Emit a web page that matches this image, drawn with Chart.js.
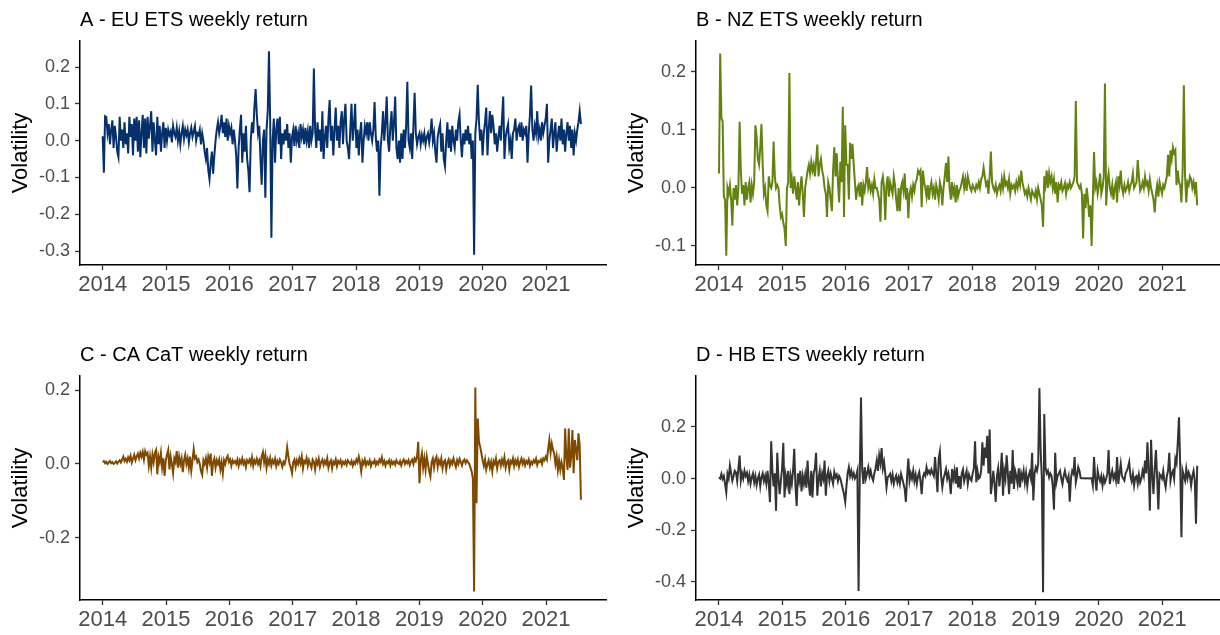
<!DOCTYPE html>
<html lang="en">
<head>
    <meta charset="UTF-8">
    <title>ETS weekly returns</title>
    <script src="https://cdn.jsdelivr.net/npm/chart.js"></script>
    <style>
        body { margin: 0; background: #fff; }
        #wrap { position: relative; width: 1220px; height: 635px; overflow: hidden; }
        .panel { position: absolute; }
    </style>
</head>
<body>
<div id="wrap">
    <div class="panel" style="left:0px;top:0px"><canvas id="chartA" width="616" height="300"></canvas></div>
    <div class="panel" style="left:616px;top:0px"><canvas id="chartB" width="604" height="300"></canvas></div>
    <div class="panel" style="left:0px;top:335px"><canvas id="chartC" width="616" height="300"></canvas></div>
    <div class="panel" style="left:616px;top:335px"><canvas id="chartD" width="604" height="300"></canvas></div>
</div>
<script>
    // weekly returns (one value per week from Jan 2014)
    const euEts = [
        0.012, -0.087, 0.066, 0.064, 0.02, 0.045, -0.01, 0.03, 0.055, -0.02,
        0.04, 0.01, -0.03, -0.045, 0.065, 0.0, 0.03, -0.02, 0.05, -0.01,
        0.02, -0.035, 0.065, 0.01, 0.045, -0.04, 0.06, 0.0, 0.065, -0.03,
        0.055, -0.045, 0.02, 0.07, -0.02, 0.06, -0.035, 0.065, 0.005, 0.04,
        0.08, -0.03, 0.05, 0.0, -0.04, 0.065, -0.01, 0.04, -0.03, 0.02,
        0.05, -0.02, 0.035, 0.0, 0.03, 0.015, 0.025, -0.005, 0.04, 0.02,
        0.01, 0.035, 0.0, 0.025, -0.01, 0.02, 0.04, 0.005, 0.03, 0.015,
        0.03, -0.005, 0.02, 0.035, 0.01, 0.025, 0.04, 0.0, 0.02, 0.015,
        0.03, -0.01, 0.02, 0.0, -0.03, -0.05, -0.02, -0.08, -0.105, -0.06,
        -0.03, -0.09, -0.04, 0.0, 0.03, 0.05, 0.02, 0.04, 0.07, 0.02,
        0.05, 0.01, 0.06, 0.0, 0.04, 0.02, 0.035, -0.01, 0.03, 0.0,
        -0.04, -0.13, -0.02, 0.03, 0.07, -0.06, 0.02, -0.03, 0.04, -0.05,
        -0.08, -0.14, 0.0, 0.05, 0.02, 0.09, 0.14, 0.07, 0.02, 0.04,
        -0.05, -0.12, 0.0, 0.03, -0.155, 0.03, 0.08, 0.243, 0.05, -0.264,
        0.0, 0.06, -0.06, 0.03, 0.06, -0.01, 0.065, -0.05, 0.02, -0.01,
        0.03, 0.0, 0.045, -0.02, 0.02, -0.06, 0.01, 0.03, -0.015, 0.04,
        0.0, 0.02, -0.02, 0.045, 0.01, 0.03, -0.01, 0.035, 0.0, 0.025,
        -0.02, 0.04, 0.0, 0.02, 0.196, 0.03, -0.02, 0.05, 0.0, 0.03,
        -0.03, 0.08, -0.05, 0.01, 0.04, -0.02, 0.06, 0.11, 0.0, 0.04,
        -0.04, 0.03, 0.09, 0.0, 0.04, -0.02, 0.05, 0.08, -0.01, 0.06,
        0.10, 0.0, -0.02, -0.05, 0.03, 0.10, 0.0, 0.04, 0.1, -0.02,
        0.03, -0.04, 0.02, 0.05, -0.06, 0.0, 0.04, 0.02, 0.05, 0.0,
        0.05, 0.02, 0.0, 0.03, 0.105, 0.01, -0.03, 0.0, -0.15, -0.02,
        0.02, 0.08, 0.0, 0.05, 0.12, 0.0, -0.03, 0.04, 0.08, 0.0,
        0.05, 0.12, -0.02, -0.05, 0.0, -0.06, 0.02, -0.05, 0.03, -0.02,
        0.04, 0.16, 0.0, -0.02, 0.02, -0.05, 0.04, 0.13, 0.02, -0.01,
        0.01, 0.02, -0.01, 0.015, 0.0, 0.02, -0.01, 0.01, 0.02, -0.005,
        0.02, 0.06, 0.0, 0.02, -0.03, -0.06, 0.01, 0.03, 0.045, -0.03,
        0.02, -0.05, -0.07, 0.0, 0.05, -0.02, 0.03, -0.03, 0.04, 0.0,
        -0.02, 0.03, 0.0, 0.05, 0.07, 0.0, -0.045, 0.02, -0.01, 0.03,
        0.0, 0.04, -0.01, 0.02, -0.05, 0.0, -0.31, 0.02, 0.06, 0.152,
        0.05, 0.0, 0.03, -0.04, 0.02, 0.05, 0.09, -0.04, 0.03, 0.08,
        0.02, 0.07, 0.04, -0.01, 0.02, -0.03, 0.01, 0.04, 0.0, 0.06,
        0.12, -0.05, 0.01, 0.03, 0.045, -0.02, 0.0, -0.05, 0.02, 0.03,
        0.06, 0.0, 0.03, 0.04, 0.01, 0.05, 0.0, 0.03, 0.02, 0.04,
        -0.06, 0.02, 0.07, 0.15, 0.03, 0.0, 0.04, 0.02, 0.08, 0.01,
        0.03, 0.0, 0.05, 0.02, 0.04, 0.06, 0.10, -0.06, 0.0, 0.03,
        0.06, -0.02, 0.02, 0.05, -0.03, 0.01, 0.04, 0.0, 0.06, -0.01,
        0.03, -0.03, 0.02, 0.05, 0.0, 0.04, -0.02, 0.03, -0.04, 0.02,
        0.0, 0.03, 0.05, 0.08, 0.045
    ];
    const nzEts = [
        0.025, 0.232, 0.12, 0.115, -0.015, -0.02, -0.117, 0.0, -0.01, 0.005,
        -0.02, -0.065, 0.0, -0.02, 0.005, -0.03, 0.0, 0.114, 0.03, -0.01,
        0.005, -0.03, 0.01, -0.02, 0.0, 0.01, -0.025, 0.005, -0.01, 0.01,
        0.108, 0.088, 0.05, 0.04, 0.07, 0.11, 0.04, -0.01, 0.0, -0.03,
        -0.04, 0.02, 0.005, 0.0, 0.01, 0.08, 0.02, 0.0, 0.005, 0.0,
        -0.03, -0.05, -0.045, -0.06, -0.07, -0.10, 0.0, 0.01, 0.198, 0.0,
        0.015, -0.01, 0.02, 0.0, -0.02, 0.01, -0.03, 0.0, 0.02, -0.01,
        -0.05, 0.0, 0.015, 0.03, 0.04, 0.025, 0.045, 0.03, 0.04, 0.02,
        0.045, 0.075, 0.02, 0.04, 0.05, 0.03, 0.02, 0.0, -0.01, -0.05,
        0.01, 0.0, -0.02, -0.04, 0.03, 0.07, 0.02, 0.06, 0.01, -0.025,
        0.045, 0.01, 0.14, -0.05, 0.108, 0.04, 0.04, -0.02, 0.078, 0.05,
        0.076, 0.04, 0.01, -0.02, 0.0, 0.005, -0.015, 0.01, -0.03, 0.005,
        -0.005, 0.01, 0.036, 0.0, 0.01, -0.005, 0.005, -0.01, 0.015, 0.0,
        0.0, -0.01, -0.02, -0.058, 0.01, 0.02, 0.0, -0.055, 0.005, 0.02,
        -0.015, 0.01, 0.0, -0.01, 0.02, 0.005, -0.02, -0.04, 0.0, -0.04,
        0.0, 0.01, -0.005, 0.025, -0.02, 0.0, -0.052, -0.01, 0.0, -0.015,
        0.005, -0.005, 0.01, 0.015, 0.03, 0.025, 0.03, -0.033, 0.03, 0.01,
        0.0, -0.015, 0.005, -0.02, 0.0, 0.01, -0.01, 0.0, -0.02, 0.005,
        -0.005, -0.02, 0.01, 0.0, -0.03, 0.0, 0.02, 0.043, 0.01, 0.054,
        0.0, -0.02, 0.01, -0.01, 0.0, -0.025, 0.005, -0.015, -0.005, 0.0,
        0.01, 0.02, 0.0, 0.015, -0.005, 0.02, 0.01, 0.0, -0.005, 0.005,
        0.0, -0.005, 0.005, 0.0, 0.01, 0.0, 0.015, 0.02, 0.035, 0.02,
        0.005, 0.01, -0.01, 0.02, 0.063, 0.01, 0.0, -0.005, 0.005, -0.01,
        0.0, 0.005, -0.005, 0.015, 0.0, 0.02, 0.005, 0.01, 0.0, 0.015,
        -0.01, 0.005, 0.0, 0.005, -0.005, 0.01, 0.0, 0.015, 0.005, 0.03,
        0.01, 0.0, -0.01, -0.005, -0.015, 0.0, -0.01, -0.02, -0.005, -0.01,
        -0.015, -0.005, -0.02, 0.0, -0.01, -0.02, -0.03, -0.067, 0.02, 0.005,
        0.03, 0.0, 0.025, 0.01, 0.02, 0.0, 0.015, -0.01, 0.01, -0.025,
        0.005, 0.0, 0.01, -0.005, 0.0, 0.008, -0.01, 0.005, 0.0, 0.01,
        0.0, 0.005, 0.01, 0.02, 0.15, 0.01, 0.005, 0.0, 0.005, -0.01,
        -0.087, -0.01, -0.035, 0.0, -0.02, -0.05, -0.03, -0.10, -0.02, 0.062,
        0.0, 0.01, -0.01, 0.005, 0.025, -0.01, 0.0, 0.02, 0.18, -0.03,
        0.01, 0.025, 0.0, -0.01, 0.005, -0.02, 0.0, 0.01, -0.025, 0.02,
        0.005, 0.03, 0.0, -0.01, 0.005, -0.005, 0.0, 0.01, -0.005, 0.005,
        0.01, 0.025, 0.0, 0.005, 0.01, 0.048, 0.02, -0.005, 0.0, 0.01,
        0.0, 0.02, 0.005, 0.01, -0.005, 0.015, 0.0, -0.01, -0.02, -0.042,
        -0.01, 0.005, -0.015, 0.01, 0.0, -0.01, 0.005, 0.0, 0.01, 0.02,
        0.057, 0.02, 0.065, 0.05, 0.07, 0.06, 0.065, 0.005, 0.03, 0.01,
        0.005, -0.025, 0.03, 0.177, 0.02, -0.025, 0.01, 0.005, 0.02, 0.015,
        0.0, 0.01, -0.005, 0.01, -0.03
    ];
    const caCat = [
        0.005, 0.008, 0.002, 0.006, 0.0, 0.004, 0.008, 0.002, 0.005, 0.0,
        0.003, 0.007, 0.001, 0.006, 0.01, 0.004, 0.012, 0.02, 0.008, 0.014,
        0.006, 0.018, 0.01, 0.022, 0.004, 0.015, 0.025, 0.01, 0.02, 0.028,
        0.015, 0.03, 0.02, 0.033, 0.012, 0.035, 0.025, 0.03, -0.005, 0.02,
        -0.01, 0.025, 0.005, 0.03, 0.038, -0.028, 0.02, 0.005, 0.03, -0.01,
        0.015, -0.032, 0.01, 0.025, 0.038, -0.015, 0.02, 0.0, -0.025, 0.015,
        0.005, 0.035, -0.01, 0.02, 0.0, 0.015, -0.022, 0.01, 0.025, 0.0,
        0.015, -0.01, 0.02, -0.018, 0.01, 0.04, 0.015, 0.02, 0.005, 0.012,
        0.0, -0.02, -0.03, 0.01, 0.0, 0.015, -0.01, 0.02, 0.005, 0.028,
        -0.032, 0.005, 0.015, -0.01, 0.01, 0.0, 0.012, -0.015, 0.005, -0.025,
        0.01, 0.0, 0.015, 0.022, 0.005, 0.012, -0.005, 0.01, 0.003, 0.008,
        0.0, 0.012, -0.005, 0.01, 0.002, 0.015, 0.0, 0.008, -0.008, 0.01,
        0.004, 0.012, 0.0, 0.018, -0.005, 0.01, 0.002, 0.014, 0.0, 0.01,
        -0.006, 0.02, 0.032, 0.005, 0.024, -0.01, 0.012, 0.0, 0.016, -0.004,
        0.01, 0.002, 0.014, -0.006, 0.008, 0.0, 0.012, 0.004, -0.008, 0.006,
        0.0, 0.015, 0.045, 0.02, 0.0, -0.01, -0.025, 0.005, 0.012, -0.008,
        0.01, 0.0, 0.015, 0.002, 0.02, -0.012, 0.008, 0.003, 0.016, -0.005,
        0.01, 0.0, -0.01, 0.012, 0.006, -0.015, 0.01, 0.0, 0.014, -0.008,
        0.005, 0.012, -0.003, 0.008, 0.0, 0.015, -0.01, 0.004, 0.01, -0.012,
        0.006, 0.0, 0.012, -0.006, 0.008, 0.002, 0.01, -0.004, 0.006, 0.0,
        0.008, -0.002, 0.01, 0.004, 0.0, 0.008, -0.005, 0.006, 0.0, 0.012,
        0.004, 0.02, 0.005, -0.02, 0.008, 0.0, 0.012, -0.004, 0.006, 0.0,
        0.01, -0.006, 0.005, 0.002, 0.01, -0.003, 0.006, 0.0, 0.012, 0.005,
        0.018, 0.0, 0.008, -0.005, 0.006, 0.002, 0.01, -0.004, 0.008, 0.0,
        0.006, -0.002, 0.01, 0.003, 0.0, 0.008, -0.004, 0.006, 0.012, 0.0,
        0.008, 0.002, 0.01, -0.003, 0.006, 0.012, 0.0, 0.015, 0.008, 0.02,
        0.06, -0.052, 0.01, 0.029, -0.01, 0.015, -0.015, 0.02, 0.0, -0.02,
        -0.034, 0.005, 0.015, -0.01, 0.012, 0.02, -0.008, 0.01, 0.0, 0.015,
        -0.012, 0.006, 0.01, -0.015, 0.004, 0.012, -0.005, 0.008, 0.0, 0.015,
        0.003, -0.008, 0.01, 0.0, 0.014, 0.005, -0.004, 0.008, 0.012, 0.002,
        0.01, 0.005, 0.0, -0.01, -0.02, -0.04, -0.345, 0.207, -0.106, 0.123,
        0.06, 0.047, 0.029, 0.01, -0.005, 0.012, -0.015, 0.0, 0.01, -0.01,
        0.005, -0.02, 0.008, 0.0, 0.015, -0.012, 0.006, 0.01, -0.005, 0.012,
        0.0, 0.018, -0.01, 0.005, 0.01, -0.015, 0.008, 0.002, 0.015, -0.006,
        0.01, 0.0, 0.012, -0.008, 0.005, 0.015, 0.0, 0.01, -0.004, 0.008,
        0.002, 0.012, -0.005, 0.006, 0.0, 0.01, 0.004, 0.014, -0.003, 0.008,
        0.005, 0.012, 0.0, 0.015, 0.01, 0.02, 0.012, 0.04, 0.065, 0.03,
        0.055, 0.038, 0.029, 0.0, 0.02, -0.016, 0.01, -0.016, 0.005, -0.01,
        -0.043, 0.096, 0.02, -0.016, 0.096, -0.01, 0.02, 0.092, -0.025, 0.065,
        0.04, 0.01, 0.083, 0.05, -0.097
    ];
    const hbEts = [
        0.005, 0.0, 0.018, -0.001, 0.01, -0.02, -0.053, 0.018, 0.0, 0.05,
        0.02, -0.008, 0.01, 0.03, 0.024, -0.01, 0.04, 0.089, -0.008, 0.02,
        0.0, 0.03, 0.01, 0.022, -0.01, 0.015, -0.02, 0.005, 0.02, -0.015,
        0.01, -0.025, 0.0, 0.015, -0.03, 0.005, 0.02, -0.01, 0.01, -0.02,
        0.03, -0.02, -0.091, 0.144, 0.03, -0.03, 0.02, -0.124, 0.1, 0.0,
        -0.06, -0.008, 0.04, 0.138, -0.073, 0.01, -0.021, 0.03, -0.06, 0.01,
        -0.02, 0.03, 0.115, -0.03, -0.106, 0.02, -0.01, 0.03, -0.05, 0.01,
        -0.02, 0.015, -0.035, 0.07, -0.02, -0.066, 0.03, -0.073, 0.02, 0.04,
        0.1, -0.066, 0.0, 0.03, -0.03, 0.02, 0.0, 0.07, -0.066, 0.01,
        0.03, -0.01, 0.02, 0.0, -0.02, 0.025, 0.005, 0.015, -0.01, 0.01,
        0.0, -0.02, -0.04, -0.06, -0.09, -0.03, 0.02, 0.044, 0.01, 0.03,
        0.005, 0.02, 0.0, 0.01, 0.03, -0.435, 0.02, 0.314, 0.03, -0.021,
        0.044, 0.0, 0.02, 0.044, 0.01, 0.03, 0.005, -0.008, 0.02, 0.04,
        0.07, 0.03, 0.09, 0.06, 0.118, 0.04, 0.064, 0.02, -0.034, 0.005,
        0.01, 0.018, -0.01, 0.015, -0.021, 0.0, 0.012, -0.015, 0.005, -0.02,
        0.018, 0.0, -0.02, -0.04, -0.09, 0.01, 0.077, -0.008, 0.02, 0.0,
        0.03, -0.01, 0.015, -0.02, 0.01, 0.025, -0.01, -0.06, 0.005, 0.02,
        0.01, 0.044, 0.02, 0.03, 0.018, 0.035, 0.02, 0.01, 0.083, 0.02,
        -0.053, 0.077, 0.105, 0.01, -0.034, 0.0, 0.018, 0.037, 0.0, 0.02,
        -0.008, -0.06, 0.037, 0.0, 0.03, -0.02, 0.044, -0.034, 0.01, -0.04,
        0.02, 0.035, -0.01, 0.01, 0.03, -0.02, 0.015, 0.0, -0.008, 0.02,
        0.04, 0.144, -0.014, 0.03, 0.0, 0.005, 0.03, 0.14, 0.05, 0.12,
        0.08, 0.166, 0.02, 0.19, -0.06, -0.021, 0.03, -0.02, -0.09, 0.01,
        0.04, -0.03, 0.02, 0.1, -0.066, 0.03, 0.0, 0.09, 0.02, -0.06,
        0.03, -0.02, 0.11, -0.04, 0.03, 0.01, -0.02, 0.04, -0.034, 0.02,
        0.0, 0.03, -0.015, 0.02, -0.03, 0.01, 0.025, 0.0, 0.1, -0.085,
        0.02, 0.044, 0.03, 0.057, 0.35, 0.11, 0.0, -0.44, 0.25, 0.044,
        0.02, 0.03, 0.005, 0.02, 0.01, -0.03, -0.12, 0.1, -0.014, 0.01,
        0.02, 0.03, 0.0, -0.021, 0.01, 0.03, 0.005, -0.008, 0.01, -0.09,
        0.0, 0.03, 0.02, 0.083, -0.014, 0.01, 0.044, 0.03, 0.002, 0.001,
        0.001, 0.001, 0.0, 0.001, 0.001, 0.0, 0.001, 0.001, -0.027, 0.083,
        0.0, -0.047, 0.03, 0.005, -0.01, 0.01, -0.027, 0.005, -0.015, 0.0,
        0.02, 0.11, -0.021, 0.01, 0.03, 0.0, 0.015, -0.008, 0.083, -0.021,
        0.02, 0.057, 0.01, 0.0, -0.008, 0.02, 0.03, 0.044, 0.064, 0.01,
        -0.01, 0.018, -0.027, 0.005, 0.01, -0.02, 0.015, -0.015, 0.0, 0.03,
        0.01, 0.07, 0.02, 0.14, 0.03, -0.124, 0.15, 0.01, -0.06, 0.04,
        0.11, 0.0, -0.12, 0.018, 0.01, 0.0, 0.03, -0.01, -0.034, 0.01,
        0.03, 0.1, -0.008, 0.02, 0.03, 0.0, 0.077, 0.06, 0.14, 0.237,
        0.05, -0.227, 0.03, 0.01, -0.008, 0.037, 0.0, 0.024, 0.01, -0.027,
        0.01, 0.03, -0.008, -0.175, 0.05
    ];

    // x categories: one date per week, as decimal years
    const firstWeek = 2014.0;
    const nWeeks = Math.max(euEts.length, nzEts.length, caCat.length, hbEts.length);
    const weeks = Array.from({ length: nWeeks }, (_, i) => +(firstWeek + i * 7 / 365.25).toFixed(4));

    const yearTicks = [2014, 2015, 2016, 2017, 2018, 2019, 2020, 2021];
    const yTicksA = [-0.3, -0.2, -0.1, 0, 0.1, 0.2];
    const yTicksB = [-0.1, 0, 0.1, 0.2];
    const yTicksC = [-0.2, 0, 0.2];
    const yTicksD = [-0.4, -0.2, 0, 0.2];

    const FONT = '"Liberation Sans", Arial, Helvetica, sans-serif';
    Chart.defaults.font.family = FONT;

    // ggplot-style title, left aligned with the panel
    const panelTitle = {
        id: 'panelTitle',
        afterDraw(chart, args, opts) {
            const ctx = chart.ctx;
            ctx.save();
            ctx.font = '20px ' + FONT;
            ctx.fillStyle = '#000';
            ctx.textBaseline = 'alphabetic';
            ctx.textAlign = 'left';
            ctx.fillText(opts.text, chart.chartArea.left, opts.y);
            ctx.restore();
        }
    };

    function makeChart(id, title, values, color, yMin, yMax, yTicks, xMin, xMax, padRight) {
        return new Chart(document.getElementById(id), {
            type: 'line',
            data: {
                labels: weeks,
                datasets: [{
                    data: values,
                    borderColor: color,
                    borderWidth: 2,
                    pointRadius: 0,
                    tension: 0,
                    fill: false
                }]
            },
            options: {
                responsive: false,
                animation: false,
                layout: { padding: { top: 41, right: padRight, left: 0, bottom: 0 } },
                plugins: {
                    legend: { display: false },
                    tooltip: { enabled: false },
                    panelTitle: { text: title, y: 26 }
                },
                scales: {
                    x: {
                        type: 'linear',
                        min: xMin,
                        max: xMax,
                        afterBuildTicks: s => { s.ticks = yearTicks.map(v => ({ value: v })); },
                        afterFit: s => { s.height = 35; },
                        border: { display: true, color: '#000', width: 1.5 },
                        grid: { drawOnChartArea: false, drawTicks: true, tickLength: 5, tickColor: '#333', tickWidth: 1.3 },
                        ticks: {
                            color: '#4d4d4d',
                            font: { size: 22 },
                            padding: 2,
                            maxRotation: 0,
                            autoSkip: false,
                            callback: v => String(v)
                        }
                    },
                    y: {
                        min: yMin,
                        max: yMax,
                        afterBuildTicks: s => { s.ticks = yTicks.map(v => ({ value: v })); },
                        afterFit: s => { s.width = 80; },
                        border: { display: true, color: '#000', width: 1.5 },
                        grid: { drawOnChartArea: false, drawTicks: true, tickLength: 5, tickColor: '#333', tickWidth: 1.3 },
                        title: {
                            display: true,
                            text: 'Volatility',
                            color: '#000',
                            font: { size: 22 },
                            padding: { top: 8, bottom: 0 }
                        },
                        ticks: {
                            color: '#4d4d4d',
                            font: { size: 18 },
                            padding: 5,
                            callback: v => v.toFixed(1)
                        }
                    }
                }
            },
            plugins: [panelTitle]
        });
    }

    makeChart('chartA', 'A - EU ETS weekly return', euEts, '#06306B', -0.338, 0.2707, yTicksA, 2013.642, 2021.947, 10);
    makeChart('chartB', 'B - NZ ETS weekly return', nzEts, '#648210', -0.1328, 0.2534, yTicksB, 2013.637, 2021.911, 0);
    makeChart('chartC', 'C - CA CaT weekly return', caCat, '#7F4A00', -0.368, 0.238, yTicksC, 2013.642, 2021.947, 10);
    makeChart('chartD', 'D - HB ETS weekly return', hbEts, '#333333', -0.47, 0.397, yTicksD, 2013.637, 2021.911, 0);
</script>
</body>
</html>
